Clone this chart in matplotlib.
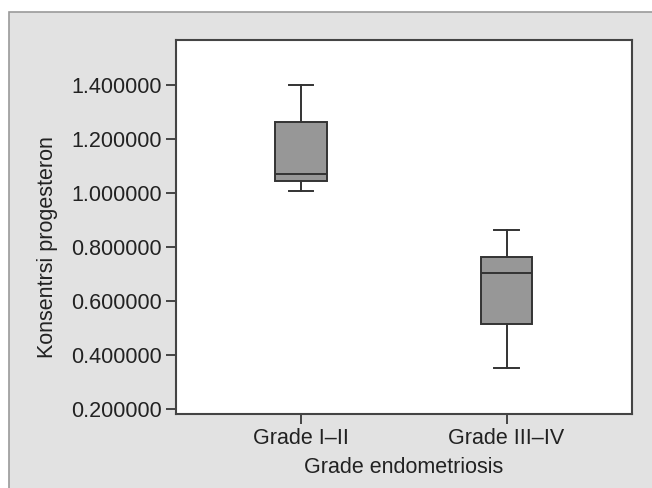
import matplotlib
matplotlib.use('Agg')
import matplotlib.pyplot as plt
from matplotlib.patches import Rectangle

# box plot statistics
groups = ['Grade I\u2013II', 'Grade III\u2013IV']
whislo = [1.006, 0.352]
q1 = [1.043, 0.514]
med = [1.070, 0.704]
q3 = [1.262, 0.763]
whishi = [1.400, 0.864]
yticks = [0.2, 0.4, 0.6, 0.8, 1.0, 1.2, 1.4]

plt.rcParams['font.family'] = ['Liberation Sans', 'DejaVu Sans']

W, H = 652, 488
fig = plt.figure(figsize=(W / 100, H / 100), dpi=100, facecolor='white')

# grey panel behind the chart
panel = Rectangle((9 / W, -0.1), 1.2, 1 - 12 / H + 0.1, transform=fig.transFigure,
                  facecolor='#e2e2e2', edgecolor='#9a9a9a', linewidth=1.2, zorder=-10)
fig.add_artist(panel)

ax = fig.add_axes([176 / W, 1 - 414 / H, (632 - 176) / W, (414 - 40) / H])
ax.set_facecolor('white')

stats = []
for i in range(len(groups)):
    stats.append({'whislo': whislo[i], 'q1': q1[i], 'med': med[i],
                  'q3': q3[i], 'whishi': whishi[i], 'fliers': []})

line_col = '#333333'
ax.bxp(stats, positions=[1, 2], widths=0.25, patch_artist=True, showfliers=False,
       boxprops=dict(facecolor='#979797', edgecolor=line_col, linewidth=1.4),
       medianprops=dict(color=line_col, linewidth=1.4),
       whiskerprops=dict(color=line_col, linewidth=1.4),
       capprops=dict(color=line_col, linewidth=1.4),
       capwidths=0.12)

ax.set_xlim(0.393, 2.61)
ax.set_ylim(0.1815, 1.567)
ax.set_xticks([1, 2])
ax.set_xticklabels(groups)
ax.set_yticks(yticks)
ax.set_yticklabels(['%.6f' % v for v in yticks])

for s in ax.spines.values():
    s.set_color('#444444')
    s.set_linewidth(1.5)
ax.tick_params(axis='both', direction='out', length=7, width=1.4, color='#444444',
               labelsize=15.5, labelcolor='#222222', pad=3)

ax.set_xlabel('Grade endometriosis', fontsize=15.5, color='#222222', labelpad=6)
ax.set_ylabel('Konsentrsi progesteron', fontsize=15.5, color='#222222')
ax.yaxis.set_label_coords((58 - 176) / (632 - 176), (414 - 247) / (414 - 40))

fig.savefig('out.png', dpi=100, facecolor=fig.get_facecolor())
